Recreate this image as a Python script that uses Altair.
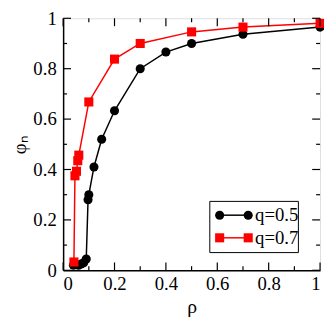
import altair as alt
import pandas as pd

# data
rho_q05 = [0.04, 0.06, 0.07, 0.08, 0.09, 0.097, 0.10, 0.12, 0.15, 0.20, 0.30, 0.40, 0.50, 0.70, 1.00]
phi_q05 = [0.02, 0.02, 0.025, 0.03, 0.045, 0.28, 0.30, 0.41, 0.52, 0.633, 0.80, 0.866, 0.90, 0.937, 0.965]
rho_q07 = [0.042, 0.046, 0.052, 0.057, 0.061, 0.10, 0.20, 0.30, 0.50, 0.70, 1.00]
phi_q07 = [0.033, 0.375, 0.393, 0.435, 0.457, 0.668, 0.838, 0.90, 0.946, 0.965, 0.98]
series = ["q=0.5", "q=0.7"]
colors = ["black", "red"]
shapes = ["circle", "square"]
major_ticks = [0, 0.2, 0.4, 0.6, 0.8, 1.0]
minor_ticks = [0.1, 0.3, 0.5, 0.7, 0.9]

W = 261
H = 256
FONT = "Liberation Serif"

df = pd.concat([
    pd.DataFrame({"rho": rho_q05, "phi": phi_q05, "series": series[0]}),
    pd.DataFrame({"rho": rho_q07, "phi": phi_q07, "series": series[1]}),
])

xs = alt.Scale(domain=[0, 1], nice=False, zero=False)
ys = alt.Scale(domain=[0, 1], nice=False, zero=False)
cscale = alt.Scale(domain=series, range=colors)
sscale = alt.Scale(domain=series, range=shapes)

x_axis = alt.Axis(
    values=major_ticks, format="~g", title="ρ", ticks=False, grid=False,
    labelFont=FONT, labelFontSize=19, labelColor="black", labelPadding=5,
    titleFont=FONT, titleFontSize=20, titleFontWeight="normal", titleColor="black",
    titlePadding=3, domainColor="black", domainWidth=1.5)
y_axis = alt.Axis(
    values=major_ticks, format="~g", title="φₙ", ticks=False, grid=False,
    labelFont=FONT, labelFontSize=19, labelColor="black", labelPadding=7,
    titleFont=FONT, titleFontSize=19, titleFontWeight="normal", titleColor="black",
    titlePadding=3, domainColor="black", domainWidth=1.5)

X = lambda: alt.X("rho:Q", scale=xs, axis=x_axis)
Y = lambda: alt.Y("phi:Q", scale=ys, axis=y_axis)

lines = alt.Chart(df).mark_line(strokeWidth=1.5).encode(
    x=X(), y=Y(),
    color=alt.Color("series:N", scale=cscale, legend=None),
    detail="series:N",
)
points = alt.Chart(df).mark_point(filled=True, size=85, opacity=1).encode(
    x=X(), y=Y(),
    color=alt.Color("series:N", scale=cscale, legend=None),
    shape=alt.Shape("series:N", scale=sscale, legend=None),
)

layers = [lines, points]

# inward ticks on all four sides
for vals, ln in [(major_ticks, 8), (minor_ticks, 4)]:
    tx = pd.DataFrame({"rho": vals})
    ty = pd.DataFrame({"phi": vals})
    layers.append(alt.Chart(tx).mark_rule(color="black", strokeWidth=1.2).encode(
        x=X(), y=alt.value(H), y2=alt.value(H - ln)))
    layers.append(alt.Chart(tx).mark_rule(color="black", strokeWidth=1.2).encode(
        x=X(), y=alt.value(0), y2=alt.value(ln)))
    layers.append(alt.Chart(ty).mark_rule(color="black", strokeWidth=1.2).encode(
        y=Y(), x=alt.value(0), x2=alt.value(ln)))
    layers.append(alt.Chart(ty).mark_rule(color="black", strokeWidth=1.2).encode(
        y=Y(), x=alt.value(W), x2=alt.value(W - ln)))

# legend box
LY = 186
one = pd.DataFrame({"a": [0]})
layers.append(alt.Chart(one).mark_rect(fill="white", stroke="black", strokeWidth=1).encode(
    x=alt.value(149), x2=alt.value(239), y=alt.value(LY), y2=alt.value(LY + 52)))
for i, (s, c, sh) in enumerate(zip(series, colors, shapes)):
    yy = LY + 14 + 23 * i
    ldf = pd.DataFrame({"series": [s]})
    layers.append(alt.Chart(ldf).mark_rule(color=c, strokeWidth=1.5).encode(
        x=alt.value(159), x2=alt.value(188), y=alt.value(yy)))
    for xx in (159, 188):
        layers.append(alt.Chart(ldf).mark_point(filled=True, size=85, opacity=1, color=c, shape=sh).encode(
            x=alt.value(xx), y=alt.value(yy)))
    layers.append(alt.Chart(ldf).mark_text(align="left", baseline="middle", font=FONT,
                                           fontSize=19, color="black").encode(
        x=alt.value(195), y=alt.value(yy), text="series:N"))

chart = alt.layer(*layers).properties(
    width=W, height=H,
    background="white",
    autosize=alt.AutoSizeParams(type="none"),
    padding={"left": 56, "top": 8, "right": 4, "bottom": 46},
).configure_view(stroke="black", strokeWidth=1.5).configure_axis(
    labelFont=FONT, titleFont=FONT
).configure_text(font=FONT).configure(font=FONT)

chart.save("out.html", embed_options={"renderer": "svg", "actions": False})
